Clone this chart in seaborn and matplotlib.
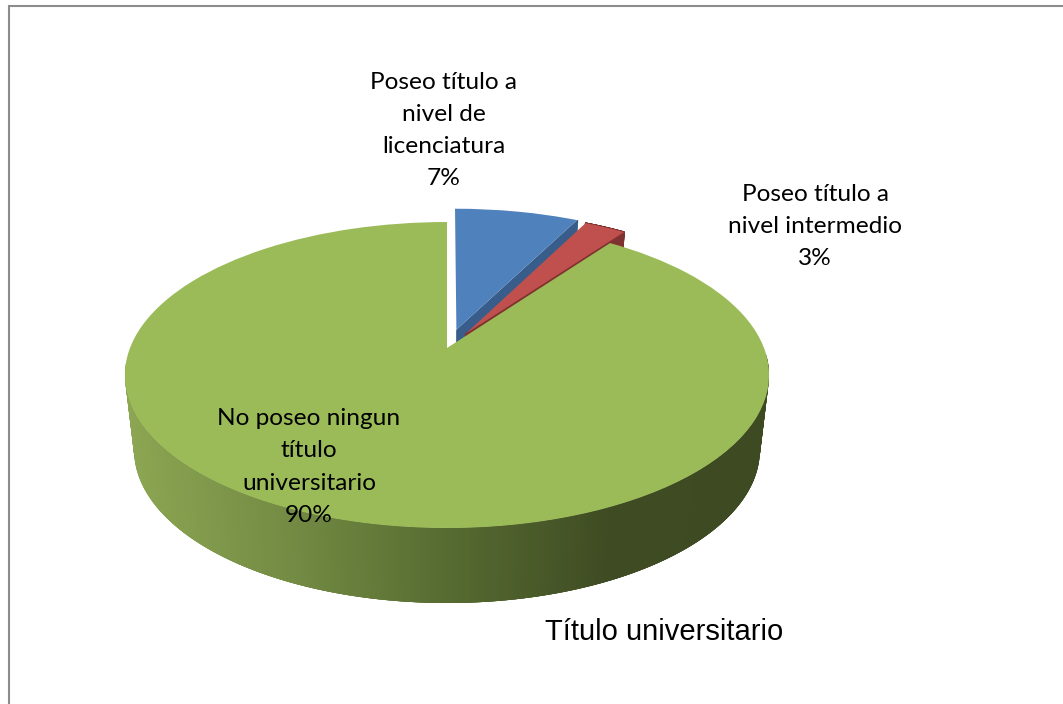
import numpy as np
import seaborn as sns
import matplotlib
matplotlib.use("Agg")
import matplotlib.pyplot as plt
from matplotlib.collections import PolyCollection
from matplotlib.transforms import Transform

# data
categories = ["Poseo título a\nnivel de\nlicenciatura",
              "Poseo título a\nnivel intermedio",
              "No poseo ningun\ntítulo\nuniversitario"]
values = [7.49, 2.51, 90.0]
explode = [0.13, 0.115, 0.0]
colors = ["#4f81bd", "#c0504d", "#9bbb59"]
edge_colors = ["#385d8a", "#7f3230", "#3e4a22"]
side_colors = ["#8ca653", "#738b43", "#566b31", "#3f4b23", "#3e4a22"]

# layout of the tilted disc, in pixels
CX = 447
TILT = 0.1765
TOP = (317, -86.8, 348)     # radius, y slope, y of the centre
BOTTOM = (308, -73.6, 423)


class Perspective(Transform):
    input_dims = output_dims = 2

    def __init__(self, plane):
        super().__init__()
        self.plane = plane

    def transform_non_affine(self, xy):
        xy = np.asarray(xy, float)
        r, a, b = self.plane
        w = 1 + TILT * xy[:, 1]
        return np.column_stack([CX + r * xy[:, 0] / w, (a * xy[:, 1] + b) / w])


def rim(wedge, plane, n=400):
    t = np.radians(np.linspace(wedge.theta1, wedge.theta2, n))
    cx, cy = wedge.center
    pts = np.column_stack([cx + np.cos(t), cy + np.sin(t)])
    return Perspective(plane).transform_non_affine(pts)


def spoke(wedge, plane, theta):
    cx, cy = wedge.center
    t = np.radians(theta)
    pts = np.array([[cx, cy], [cx + np.cos(t), cy + np.sin(t)]])
    return Perspective(plane).transform_non_affine(pts)


sns.set_theme(style="white")
fig, ax = plt.subplots(figsize=(10.63, 7.04), dpi=100)
fig.subplots_adjust(0, 0, 1, 1)

wedges, _ = ax.pie(values, explode=explode, colors=colors, startangle=90,
                   counterclock=False, radius=1, wedgeprops={"linewidth": 0})
ax.set_aspect("auto")
ax.set_xlim(0, 1063)
ax.set_ylim(704, 0)
ax.axis("off")

top_tr = Perspective(TOP) + ax.transData
palette = sns.blend_palette(side_colors, 256)

for i, w in enumerate(wedges):
    w.set_transform(top_tr)
    w.set_zorder(2 * i + 2)
    up, low = rim(w, TOP), rim(w, BOTTOM)
    if i == 2:
        # rounded side of the big slice, lighter on the left and dark on the right
        # only the front part shows, quads overlap so no seams appear
        keep = [k for k in range(len(up) - 4) if up[k, 1] > 360]
        quads = [[up[k], up[k + 4], low[k + 4], low[k]] for k in keep]
        face = [palette[int(np.clip((up[k, 0] - 124) / 645, 0, 1) * 255)] for k in keep]
        ax.add_collection(PolyCollection(quads, facecolors=face, linewidths=0,
                                         zorder=2 * i + 1))
    else:
        # cut face of the small slices, the red one also shows its rim
        a, b = spoke(w, TOP, w.theta1), spoke(w, BOTTOM, w.theta1)
        quads = [[a[0], a[1], b[1], b[0]]]
        if i == 1:
            quads += [[up[k], up[k + 1], low[k + 1], low[k]] for k in range(len(up) - 1)]
        ax.add_collection(PolyCollection(quads, facecolors=edge_colors[i],
                                         edgecolors=edge_colors[i], linewidths=1.0,
                                         zorder=2 * i + 1))

# data labels
label_pos = [(443.5, 130.5), (815, 226.5), (309, 467)]
for cat, v, (x, y) in zip(categories, values, label_pos):
    ax.text(x, y, f"{cat}\n{v:.0f}%", ha="center", va="center", fontsize=17.6,
            family="Lato", color="black", linespacing=1.65, zorder=10)

ax.text(664, 632.5, "Título universitario", ha="center", va="center",
        fontsize=21, family="Liberation Sans", color="black", zorder=10)

# chart area border, only top and left are in frame
ax.plot([8.5, 8.5, 1063], [704, 5.5, 5.5], color="#8c8c8c", lw=1.5, zorder=11,
        solid_joinstyle="miter")

fig.savefig("out.png", dpi=100)
